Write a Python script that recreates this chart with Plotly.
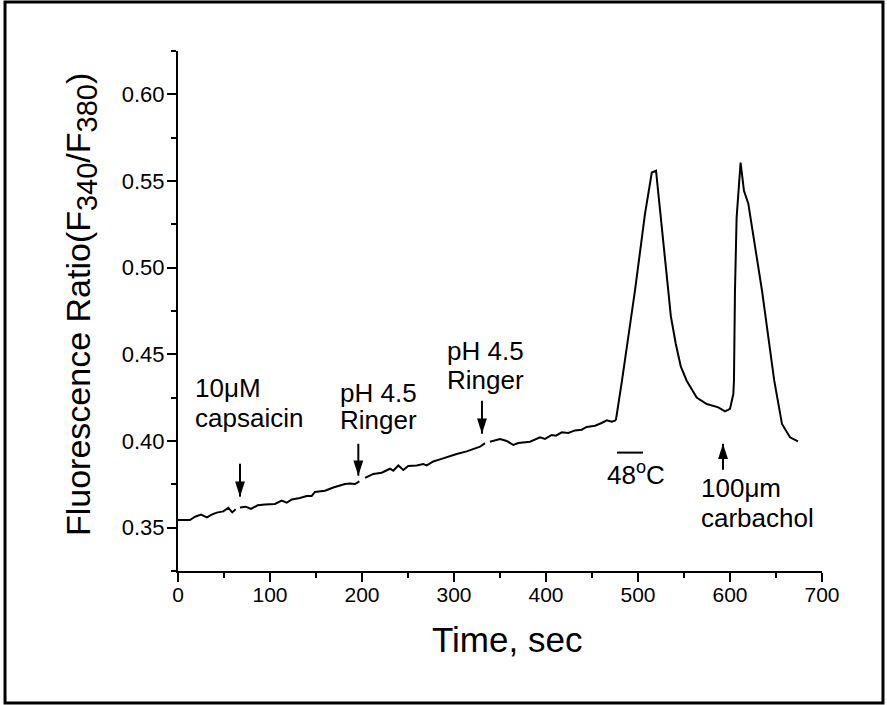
import plotly.graph_objects as go

# ---- data (time in s, fluorescence ratio F340/F380) ----
seg1_t = [0, 13.0, 18.5, 25.0, 31.5, 36.6, 42.1, 49.2, 54.7, 59.0, 62.7]
seg1_r = [0.3544, 0.3544, 0.3563, 0.3575, 0.3559, 0.3575, 0.3587, 0.3594, 0.3614, 0.3588, 0.3606]

seg2_t = [67.4, 73.6, 79.3, 86.6, 94.6, 105.4, 112.7, 118.2, 123.6, 132.6, 139.9, 145.3, 148.9,
          159.8, 168.8, 181.5, 187.0, 192.4, 197.1]
seg2_r = [0.3617, 0.3621, 0.3608, 0.3629, 0.3633, 0.3637, 0.3656, 0.3644, 0.3663, 0.3671, 0.3683,
          0.3683, 0.3706, 0.3713, 0.3732, 0.3752, 0.3755, 0.3752, 0.3767]

seg3_t = [203.3, 212.3, 221.4, 230.4, 234.0, 239.5, 244.9, 250.3, 259.5, 266.6, 270.3, 277.5,
          284.8, 295.7, 302.9, 313.8, 321.0, 328.3, 333.7]
seg3_r = [0.3787, 0.3810, 0.3817, 0.3840, 0.3829, 0.3859, 0.3833, 0.3856, 0.3859, 0.3867, 0.3859,
          0.3882, 0.3894, 0.3913, 0.3925, 0.3940, 0.3952, 0.3967, 0.3988]

seg4_t = [339.1, 350.0, 357.3, 364.5, 369.9, 382.6, 393.5, 398.9, 406.2, 410.9, 417.1, 424.2,
          431.5, 438.8, 444.2, 453.3, 460.5, 466.0, 471.4, 475.0, 476.1, 482.6, 496.7, 507.6,
          515.0, 519.6, 532.9, 535.7, 541.1, 546.5, 552.9, 563.8, 574.7, 587.3, 594.6, 600.0,
          603.6, 604.3, 605.4, 607.2, 611.5, 615.2, 619.9, 634.8, 648.1, 656.5, 665.2, 673.9]
seg4_r = [0.3996, 0.4012, 0.4000, 0.3977, 0.3988, 0.3996, 0.4021, 0.4012, 0.4035, 0.4031, 0.4050,
          0.4046, 0.4061, 0.4065, 0.4081, 0.4088, 0.4104, 0.4119, 0.4111, 0.4117, 0.4125, 0.4348,
          0.4867, 0.5310, 0.5549, 0.5559, 0.4867, 0.4720, 0.4560, 0.4430, 0.4348, 0.4251, 0.4213,
          0.4194, 0.4171, 0.4185, 0.4271, 0.4348, 0.4867, 0.5289, 0.5606, 0.5443, 0.5369, 0.4867,
          0.4348, 0.4098, 0.4021, 0.3998]

segments = [(seg1_t, seg1_r), (seg2_t, seg2_r), (seg3_t, seg3_r), (seg4_t, seg4_r)]

# stimulus arrows
arrow_t = [67.4, 196.0, 330.4, 592.4]
arrow_tail = [0.3869, 0.3984, 0.4232, 0.3834]
arrow_tip = [0.3679, 0.3800, 0.4042, 0.3984]

# labels
label_text = ["10μM", "capsaicin", "pH 4.5", "Ringer", "pH 4.5", "Ringer",
              "48<sup>o</sup>C", "100μm", "carbachol"]
label_t = [16.3, 16.3, 174.2, 174.2, 290.2, 290.2, 464.0, 566.5, 566.5]
label_r = [0.4306, 0.4133, 0.4277, 0.4123, 0.4517, 0.4353, 0.3815, 0.3727, 0.3554]

# heat stimulus bar (48 C)
heat_start, heat_end, heat_level = 477.2, 505.4, 0.3933

x_ticks = [0, 100, 200, 300, 400, 500, 600, 700]
y_ticks = [0.35, 0.40, 0.45, 0.50, 0.55, 0.60]

FONT = "Liberation Sans, Arial, sans-serif"

fig = go.Figure()
for t, r in segments:
    fig.add_trace(go.Scatter(x=t, y=r, mode="lines",
                             line=dict(color="black", width=2), showlegend=False,
                             hoverinfo="skip"))

# arrow shafts
sx, sy = [], []
for t, a, b in zip(arrow_t, arrow_tail, arrow_tip):
    sx += [t, t, None]
    sy += [a, b, None]
fig.add_trace(go.Scatter(x=sx, y=sy, mode="lines", line=dict(color="black", width=2),
                         showlegend=False, hoverinfo="skip"))
# arrow heads
angles = [180 if b < a else 0 for a, b in zip(arrow_tail, arrow_tip)]
fig.add_trace(go.Scatter(x=arrow_t, y=arrow_tip, mode="markers",
                         marker=dict(symbol="arrow", size=16, angle=angles, color="black",
                                     line=dict(width=0)),
                         showlegend=False, hoverinfo="skip", cliponaxis=False))

for txt, t, r in zip(label_text, label_t, label_r):
    fig.add_annotation(x=t, y=r, xref="x", yref="y", text=txt, showarrow=False,
                       xanchor="left", yanchor="middle",
                       font=dict(family=FONT, size=26, color="black"))

fig.add_shape(type="line", xref="x", yref="y", x0=heat_start, x1=heat_end,
              y0=heat_level, y1=heat_level, line=dict(color="black", width=2))

# axis titles
fig.add_annotation(x=358, y=-0.131, xref="x", yref="paper", text="Time, sec",
                   showarrow=False, xanchor="center", yanchor="middle",
                   font=dict(family=FONT, size=35, color="black"))
fig.add_annotation(x=-0.1506, y=0.5115, xref="paper", yref="paper",
                   text='Fluorescence Ratio(F<sub><span style="font-size:29px">340</span></sub>'
                        '/F<sub><span style="font-size:29px">380</span></sub>)',
                   textangle=-90, showarrow=False, xanchor="center", yanchor="middle",
                   font=dict(family=FONT, size=34, color="black"))

# outer frame
fig.add_shape(type="rect", xref="paper", yref="paper",
              x0=-0.2686, x1=1.0947, y0=-0.2538, y1=1.0942,
              line=dict(color="black", width=3), fillcolor="rgba(0,0,0,0)")

fig.update_xaxes(range=[0, 700], tickmode="array", tickvals=x_ticks,
                 ticks="outside", ticklen=9, tickwidth=2, tickcolor="black",
                 showline=True, linewidth=2, linecolor="black",
                 showgrid=False, zeroline=False, ticklabelstandoff=-5,
                 tickfont=dict(family=FONT, size=21, color="black"),
                 minor=dict(dtick=50, tick0=0, ticks="outside", ticklen=5, tickwidth=2,
                            tickcolor="black", showgrid=False))
fig.update_yaxes(range=[0.325, 0.625], tickmode="array", tickvals=y_ticks,
                 ticktext=[f"{v:.2f}" for v in y_ticks],
                 ticks="outside", ticklen=9, tickwidth=2, tickcolor="black",
                 showline=True, linewidth=2, linecolor="black",
                 showgrid=False, zeroline=False, ticklabelstandoff=-2,
                 tickfont=dict(family=FONT, size=22, color="black"),
                 minor=dict(dtick=0.025, tick0=0.325, ticks="outside", ticklen=5, tickwidth=2,
                            tickcolor="black", showgrid=False))

fig.update_layout(width=887, height=705, margin=dict(l=178, r=65, t=51, b=134),
                  paper_bgcolor="white", plot_bgcolor="white", showlegend=False,
                  font=dict(family=FONT, color="black"))

fig.write_html("out.html", config={"displayModeBar": False},
               post_script="document.body.style.margin='0px';"
                           "document.body.style.overflow='hidden';")
